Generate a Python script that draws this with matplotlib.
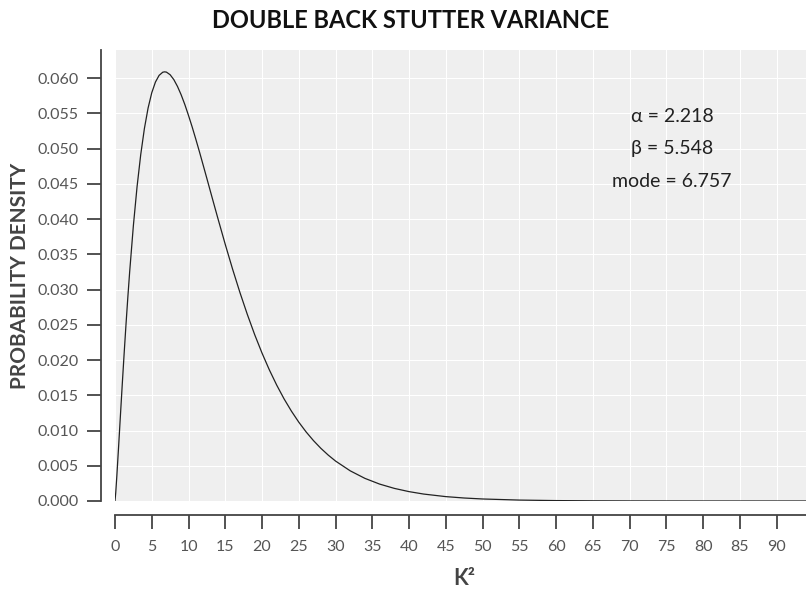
import matplotlib
matplotlib.use("Agg")
import matplotlib.pyplot as plt

plt.rcParams['font.family'] = ['Lato', 'DejaVu Sans']

# gamma density
k2 = [0, 0.1, 0.25, 0.5, 0.75, 1, 1.25, 1.5, 1.75, 2, 2.5, 3, 3.5, 4, 4.5,
      5, 5.5, 6, 6.5, 6.757, 7, 7.5, 8, 8.5, 9, 9.5, 10, 10.5, 11, 11.5, 12,
      12.5, 13, 13.5, 14, 15, 16, 17, 18, 19, 20, 21, 22, 23, 24, 25, 26,
      27, 28, 29, 30, 32, 34, 36, 38, 40, 42, 45, 47.5, 50, 55, 60, 65, 70,
      80, 94]
density = [0.0, 0.00119, 0.00355, 0.00789, 0.01236, 0.01678, 0.02104,
           0.02512, 0.02897, 0.03259, 0.03908, 0.04459, 0.04916, 0.05286,
           0.05576, 0.05793, 0.05945, 0.06040, 0.06085, 0.06090, 0.06086,
           0.06049, 0.05980, 0.05883, 0.05764, 0.05626, 0.05471, 0.05307,
           0.05132, 0.04951, 0.04764, 0.04576, 0.04386, 0.04197, 0.04009,
           0.03641, 0.03289, 0.02957, 0.02648, 0.02361, 0.02099, 0.01860,
           0.01644, 0.01449, 0.01275, 0.01119, 0.00980, 0.00857, 0.00748,
           0.00652, 0.00567, 0.00428, 0.00321, 0.00240, 0.00179, 0.00133,
           0.000983, 0.000622, 0.000424, 0.000287, 0.000131, 0.0000592,
           0.0000265, 0.0000118, 0.0000023, 0.0]

x_ticks = list(range(0, 95, 5))
y_ticks = [0.000, 0.005, 0.010, 0.015, 0.020, 0.025, 0.030, 0.035, 0.040,
           0.045, 0.050, 0.055, 0.060]
notes = ["\u03b1 = 2.218", "\u03b2 = 5.548", "mode = 6.757"]

fig = plt.figure(figsize=(8.06, 5.92), dpi=100)
ax = fig.add_axes([115 / 806, 1 - 501 / 592, 691 / 806, 451 / 592])
ax.set_facecolor('#efefef')

ax.plot(k2, density, color='#222222', linewidth=0.9)

ax.set_xlim(0, 94)
ax.set_ylim(0, 0.064)
ax.set_xticks(x_ticks)
ax.set_yticks(y_ticks)
ax.set_yticklabels([f"{v:.3f}" for v in y_ticks])
ax.grid(True, color='white', linewidth=0.8)
ax.set_axisbelow(True)

for side in ['top', 'right']:
    ax.spines[side].set_visible(False)
for side in ['left', 'bottom']:
    ax.spines[side].set_position(('outward', 10))
    ax.spines[side].set_color('#444444')
    ax.spines[side].set_linewidth(1.3)

ax.tick_params(axis='both', colors='#444444', labelcolor='#555555',
               labelsize=11.5, length=10, width=1.3, pad=6)
ax.tick_params(axis='x', pad=8)

ax.set_xlabel("K\u00b2", fontsize=15.5, fontweight='bold', color='#444444',
              va='center')
ax.xaxis.set_label_coords(0.505, -0.171)
ax.set_ylabel("PROBABILITY DENSITY", fontsize=15, fontweight='bold',
              color='#444444', va='center')
ax.yaxis.set_label_coords(-0.137, 0.499)

for i, line in enumerate(notes):
    ax.text(0.806, 0.853 - i * 0.072, line, transform=ax.transAxes,
            ha='center', va='center', fontsize=14, color='#222222')

fig.suptitle("DOUBLE BACK STUTTER VARIANCE", x=0.509, y=1 - 20 / 592,
             va='center', fontsize=17, fontweight='bold', color='#111111')

fig.savefig("out.png", dpi=100)
